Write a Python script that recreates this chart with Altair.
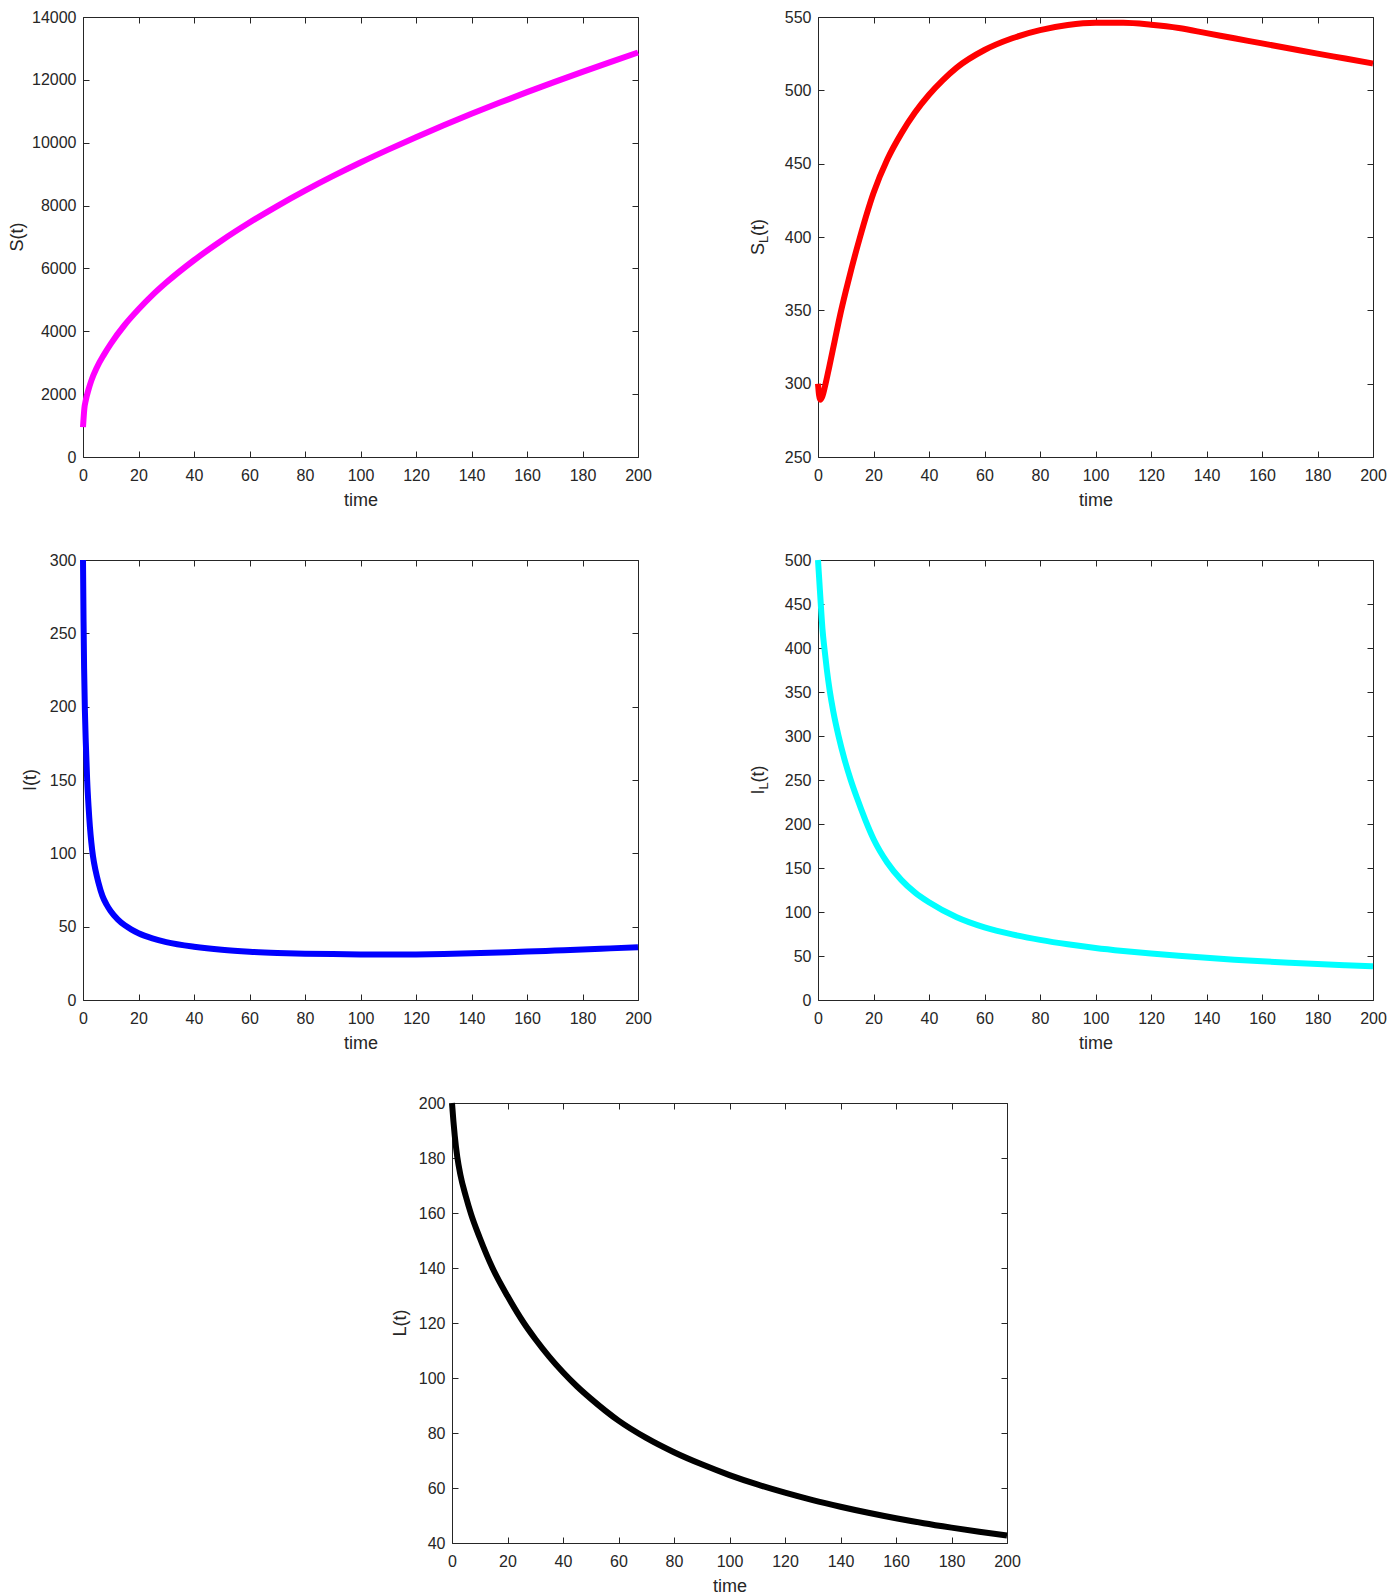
import altair as alt
import pandas as pd

# ---------------- data ----------------
t_S = [0, 0.5, 1, 2, 3, 5, 7.5, 10, 15, 20, 25, 30, 40, 50, 60, 70, 80, 90, 100,
       110, 120, 130, 140, 150, 160, 170, 180, 190, 200]
S_vals = [950, 1550, 1800, 2150, 2430, 2850, 3250, 3600, 4200, 4700, 5150, 5550, 6260,
          6890, 7460, 7985, 8475, 8935, 9370, 9780, 10175, 10555, 10920, 11270, 11610,
          11935, 12255, 12565, 12870]

t_SL = [0, 0.4, 0.8, 1.5, 2.5, 4, 6, 8, 10, 12, 15, 20, 25, 30, 35, 40, 45, 50, 60,
        70, 80, 90, 100, 110, 120, 130, 140, 150, 160, 170, 180, 190, 200]
SL_vals = [300, 292, 289, 291, 298, 311, 329, 347, 363, 378, 399, 430, 453, 470.5,
           485, 497, 507, 515.5, 527.5, 535.5, 541, 544.5, 546, 546, 544.7, 542.5, 539,
           535.5, 532, 528.5, 525, 521.7, 518.3]

t_I = [0, 0.2, 0.4, 0.7, 1, 1.5, 2, 2.5, 3, 3.6, 4.5, 5.5, 7, 8.5, 10, 12.5, 15, 17.5,
       20, 25, 30, 40, 50, 60, 70, 80, 90, 100, 110, 120, 130, 140, 150, 160, 170, 180,
       190, 200]
I_vals = [300, 258, 226, 196, 176, 150, 132, 118, 107.5, 98, 88.5, 80.5, 71, 65, 60.5,
          55, 51, 48, 45.5, 42, 39.5, 36.3, 34.2, 32.9, 32.1, 31.6, 31.3, 31.1, 31,
          31.1, 31.4, 31.8, 32.4, 33, 33.7, 34.4, 35.2, 36]

t_IL = [0, 0.5, 1, 1.6, 2.4, 3.2, 4.2, 5.5, 7.4, 9.5, 11.8, 14, 17, 20, 25, 30, 35, 40,
        50, 60, 70, 80, 90, 100, 110, 120, 130, 140, 150, 160, 170, 180, 190, 200]
IL_vals = [500, 475, 450, 422, 397, 375, 352, 328, 300, 274, 250, 230, 205, 183, 156,
           136.5, 122, 111, 94, 82.5, 74.5, 68.3, 63.3, 59.2, 55.8, 52.8, 50.2, 47.9,
           45.8, 44, 42.4, 40.9, 39.6, 38.4]

t_L = [0, 0.5, 1, 1.9, 3, 5, 6.9, 10, 14.6, 20, 25.9, 30, 35, 40, 45, 50, 60, 70, 80,
       90, 100, 110, 120, 130, 140, 150, 160, 170, 180, 190, 200]
L_vals = [200, 193.5, 188, 180.4, 174, 166, 159.5, 151, 140, 129.8, 120, 114.2, 107.8,
          102.1, 97, 92.5, 84.5, 78.2, 73, 68.6, 64.7, 61.3, 58.3, 55.6, 53.2, 51, 49,
          47.2, 45.6, 44.1, 42.7]

x_ticks = [0, 20, 40, 60, 80, 100, 120, 140, 160, 180, 200]
S_ticks = [0, 2000, 4000, 6000, 8000, 10000, 12000, 14000]
SL_ticks = [250, 300, 350, 400, 450, 500, 550]
I_ticks = [0, 50, 100, 150, 200, 250, 300]
IL_ticks = [0, 50, 100, 150, 200, 250, 300, 350, 400, 450, 500]
L_ticks = [40, 60, 80, 100, 120, 140, 160, 180, 200]

# ---------------- style ----------------
W = 555
H = 440
FONT = "Liberation Sans"
AX = "#262626"
TICK = 6


def panel(t, v, color, ticks, title_parts, title_x):
    df = pd.DataFrame({"t": t, "v": v})
    x = alt.X(
        "t:Q",
        scale=alt.Scale(domain=[0, 200], nice=False, zero=False),
        axis=alt.Axis(values=x_ticks, title="time", format="d",
                      gridDash=[TICK, H - 2 * TICK],
                      labelPadding=10, titlePadding=8),
    )
    y = alt.Y(
        "v:Q",
        scale=alt.Scale(domain=[ticks[0], ticks[-1]], nice=False, zero=False),
        axis=alt.Axis(values=ticks, title=None, format="d",
                      gridDash=[TICK, W - 2 * TICK], labelPadding=7),
    )
    line = alt.Chart(df).mark_line(
        color=color, strokeWidth=6, interpolate="monotone"
    ).encode(x=x, y=y)
    layers = [line]
    for txt, size, dx, dy in title_parts:
        layers.append(
            alt.Chart(pd.DataFrame({"s": [txt]})).mark_text(
                angle=270, align="center", baseline="alphabetic",
                fontSize=size, font=FONT, color=AX,
            ).encode(text="s:N", x=alt.value(title_x + dx), y=alt.value(H / 2 + dy))
        )
    return alt.layer(*layers).properties(width=W, height=H)


pS = panel(t_S, S_vals, "#ff00ff", S_ticks, [("S(t)", 18, 0, 0)], -60)
pSL = panel(t_SL, SL_vals, "#ff0000", SL_ticks,
            [("S", 18, 0, 12.1), ("L", 13, 4, 2.5), ("(t)", 18, 0, -9.6)], -54)
pI = panel(t_I, I_vals, "#0000ff", I_ticks, [("I(t)", 18, 0, 0)], -47.5)
pIL = panel(t_IL, IL_vals, "#00ffff", IL_ticks,
            [("I", 18, 0, 12.1), ("L", 13, 4, 6), ("(t)", 18, 0, -6.1)], -54)
pL = panel(t_L, L_vals, "#000000", L_ticks, [("L(t)", 18, 0, 0)], -46.5)

GAP_X = 180
spacer_w = 349
spacer = alt.Chart(pd.DataFrame({"a": [0]})).mark_point(opacity=0).encode(
    x=alt.X("a:Q", axis=None), y=alt.Y("a:Q", axis=None)
).properties(width=spacer_w, height=10,
             view=alt.ViewBackground(strokeOpacity=0))

row1 = alt.hconcat(pS, pSL, spacing=GAP_X, bounds="flush")
row2 = alt.hconcat(pI, pIL, spacing=GAP_X, bounds="flush")
row3 = alt.hconcat(spacer, pL, spacing=20, bounds="flush")

chart = alt.vconcat(row1, row2, row3, spacing=37).properties(
    padding=0
).configure(
    background="white"
).configure_view(
    stroke=AX, strokeWidth=1
).configure_axis(
    domain=False, ticks=False, grid=True, gridColor=AX, gridOpacity=1, gridWidth=1,
    labelFont=FONT, labelFontSize=16, labelColor=AX, labelFlush=False,
    labelOverlap=False,
    titleFont=FONT, titleFontSize=18, titleFontWeight="normal", titleColor=AX,
)

chart.save("out.html", embed_options={"renderer": "svg", "actions": False})
